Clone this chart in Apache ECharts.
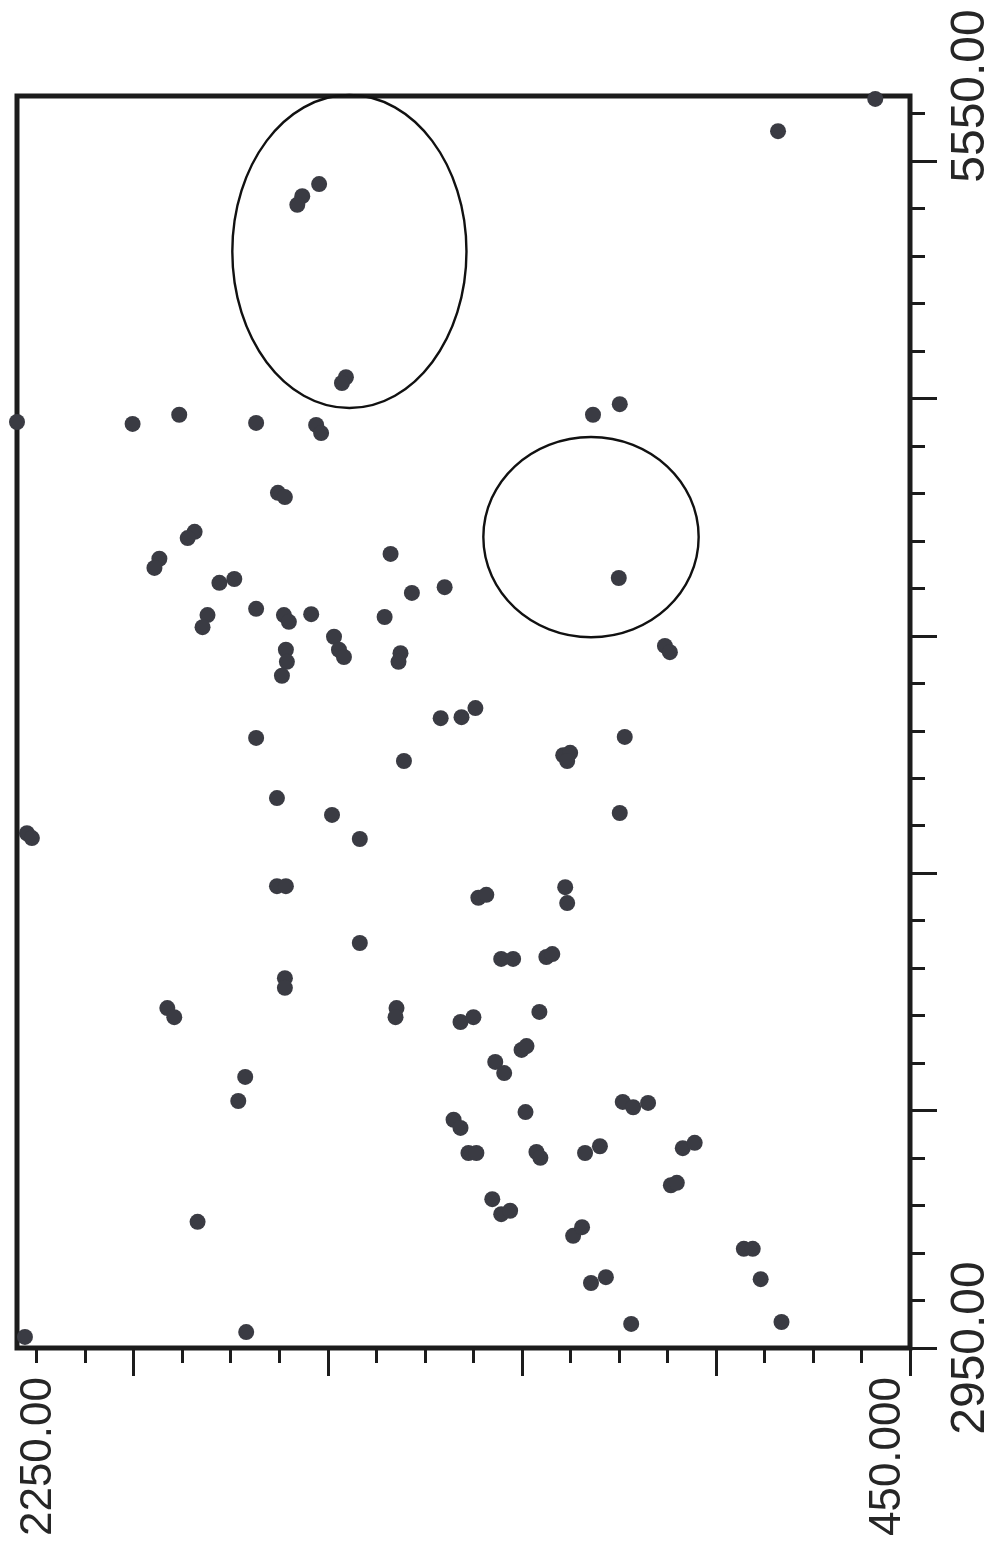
<!DOCTYPE html>
<html><head><meta charset="utf-8">
<script src="https://cdn.jsdelivr.net/npm/echarts@6/dist/echarts.min.js"></script>
<style>html,body{margin:0;padding:0;background:#fff}#c{width:995px;height:1543px}</style>
</head><body><div id="c"></div>
<script>
// ---- data ----
const xData = [520,716,1641,1675,1685,1587,1595,2250,2017,1923,1768,1647,1637,1724,1710,1089,1035,1892,1906,1963,
 1973,1497,1842,1812,1454,1388,1866,1876,1768,1712,1702,1657,1509,1611,1601,1591,1708,1706,1716,1477,
 1481,1396,1354,1326,1768,1470,1726,1615,1559,2230,2220,1726,1708,1037,944,934,1149,1135,1141,1025,
 1035,1320,1304,1145,1141,1559,1710,1710,1947,1933,1485,1487,1274,1250,1183,1171,1356,1330,1197,1233,
 1223,1286,1268,1790,1804,1225,1370,1356,1340,1324,1203,1195,1105,1075,1029,1008,978,908,884,932,
 920,1886,1292,1274,1256,1129,1111,785,767,751,1093,1063,1012,709,2234,1788];
const yData = [5544,5477,5367,5342,5324,4966,4954,4873,4869,4888,4871,4867,4850,4726,4717,4888,4910,4645,4632,4589,
 4570,4599,4539,4547,4518,4530,4472,4447,4485,4472,4458,4474,4468,4427,4400,4385,4400,4375,4346,4393,
 4375,4258,4260,4279,4217,4169,4092,4057,4007,4019,4009,3909,3909,4549,4408,4395,4181,4186,4169,4219,
 4061,3885,3891,3907,3874,3791,3718,3698,3656,3637,3656,3637,3758,3758,3762,3768,3627,3637,3648,3569,
 3577,3544,3521,3513,3463,3440,3424,3407,3355,3355,3357,3345,3355,3369,3461,3450,3459,3365,3376,3288,
 3293,3212,3259,3228,3235,3183,3201,3156,3156,3093,3085,3097,3000,3004,2973,2983];

// annotation ellipses (centre and radii in data units)
const ellipseCX = [1580, 1093];
const ellipseCY = [5227, 4634];
const ellipseRX = [236, 217];
const ellipseRY = [325, 208];

// axes
const xMin = 450, xMax = 2250, yMin = 2950, yMax = 5550;
const xTickStep = 97.8, xMajorEvery = 4, xTickCount = 18;
const yTickStep = 98.6, yMajorEvery = 5, yTickCount = 26;
const xLabelValues = [450, 2250];
const xLabelTexts = ['450.000', '2250.00'];
const yLabelValues = [2950, 5550];
const yLabelTexts = ['2950.00', '5550.00'];

// ---- build ----
const xMinor = [], xMajor = [], yMinor = [], yMajor = [];
for (let k = 0; k <= xTickCount; k++) { const v = xMin + k * xTickStep; (k % xMajorEvery === 0 ? xMajor : xMinor).push(v); }
for (let k = 0; k <= yTickCount; k++) { const v = yMin + k * yTickStep; (k % yMajorEvery === 0 ? yMajor : yMinor).push(v); }

const FONT = "'Liberation Sans', Arial, Helvetica, sans-serif";
const INK = '#1c1c1c';
const tickStyle = { color: INK, width: 3 };

const chart = echarts.init(document.getElementById('c'), null, { renderer: 'canvas' });
chart.setOption({
  animation: false,
  backgroundColor: '#fff',
  grid: { left: 17, top: 96, width: 896, height: 1252, show: true, borderWidth: 5, borderColor: INK, backgroundColor: 'transparent' },
  xAxis: [
    { type: 'value', min: xMin, max: xMax, inverse: true, position: 'bottom',
      axisLine: { show: false }, splitLine: { show: false },
      axisTick: { show: true, customValues: xMajor, length: 28, lineStyle: tickStyle },
      axisLabel: { show: true, customValues: xLabelValues, rotate: 90, margin: 29,
        formatter: v => xLabelTexts[xLabelValues.indexOf(+v)] || '',
        fontSize: 44, fontFamily: FONT, color: '#262626',
        verticalAlignMinLabel: 'bottom', verticalAlignMaxLabel: 'top' } },
    { type: 'value', min: xMin, max: xMax, inverse: true, position: 'bottom',
      axisLine: { show: false }, splitLine: { show: false },
      axisTick: { show: true, customValues: xMinor, length: 15, lineStyle: tickStyle },
      axisLabel: { show: false } }
  ],
  yAxis: [
    { type: 'value', min: yMin, max: yMax, position: 'right',
      axisLine: { show: false }, splitLine: { show: false },
      axisTick: { show: true, customValues: yMajor, length: 27, lineStyle: tickStyle },
      axisLabel: { show: true, customValues: yLabelValues, rotate: 90, margin: 37,
        formatter: v => yLabelTexts[yLabelValues.indexOf(+v)] || '',
        fontSize: 48, fontFamily: FONT, color: '#262626' } },
    { type: 'value', min: yMin, max: yMax, position: 'right',
      axisLine: { show: false }, splitLine: { show: false },
      axisTick: { show: true, customValues: yMinor, length: 15, lineStyle: tickStyle },
      axisLabel: { show: false } }
  ],
  series: [
    { type: 'custom', coordinateSystem: 'cartesian2d', xAxisIndex: 0, yAxisIndex: 0, clip: false, silent: true,
      data: ellipseCX.map((cx, i) => [cx, ellipseCY[i], ellipseRX[i], ellipseRY[i]]),
      encode: { x: 0, y: 1 },
      renderItem: (params, api) => {
        const c = api.coord([api.value(0), api.value(1)]);
        const s = api.size([api.value(2), api.value(3)]);
        return { type: 'ellipse', shape: { cx: c[0], cy: c[1], rx: Math.abs(s[0]), ry: Math.abs(s[1]) },
          style: { fill: 'none', stroke: '#111', lineWidth: 2.4 } };
      } },
    { type: 'scatter', xAxisIndex: 0, yAxisIndex: 0, symbol: 'circle', symbolSize: 16,
      itemStyle: { color: '#3a3b43', opacity: 1 },
      data: xData.map((x, i) => [x, yData[i]]) }
  ]
});
</script></body></html>
